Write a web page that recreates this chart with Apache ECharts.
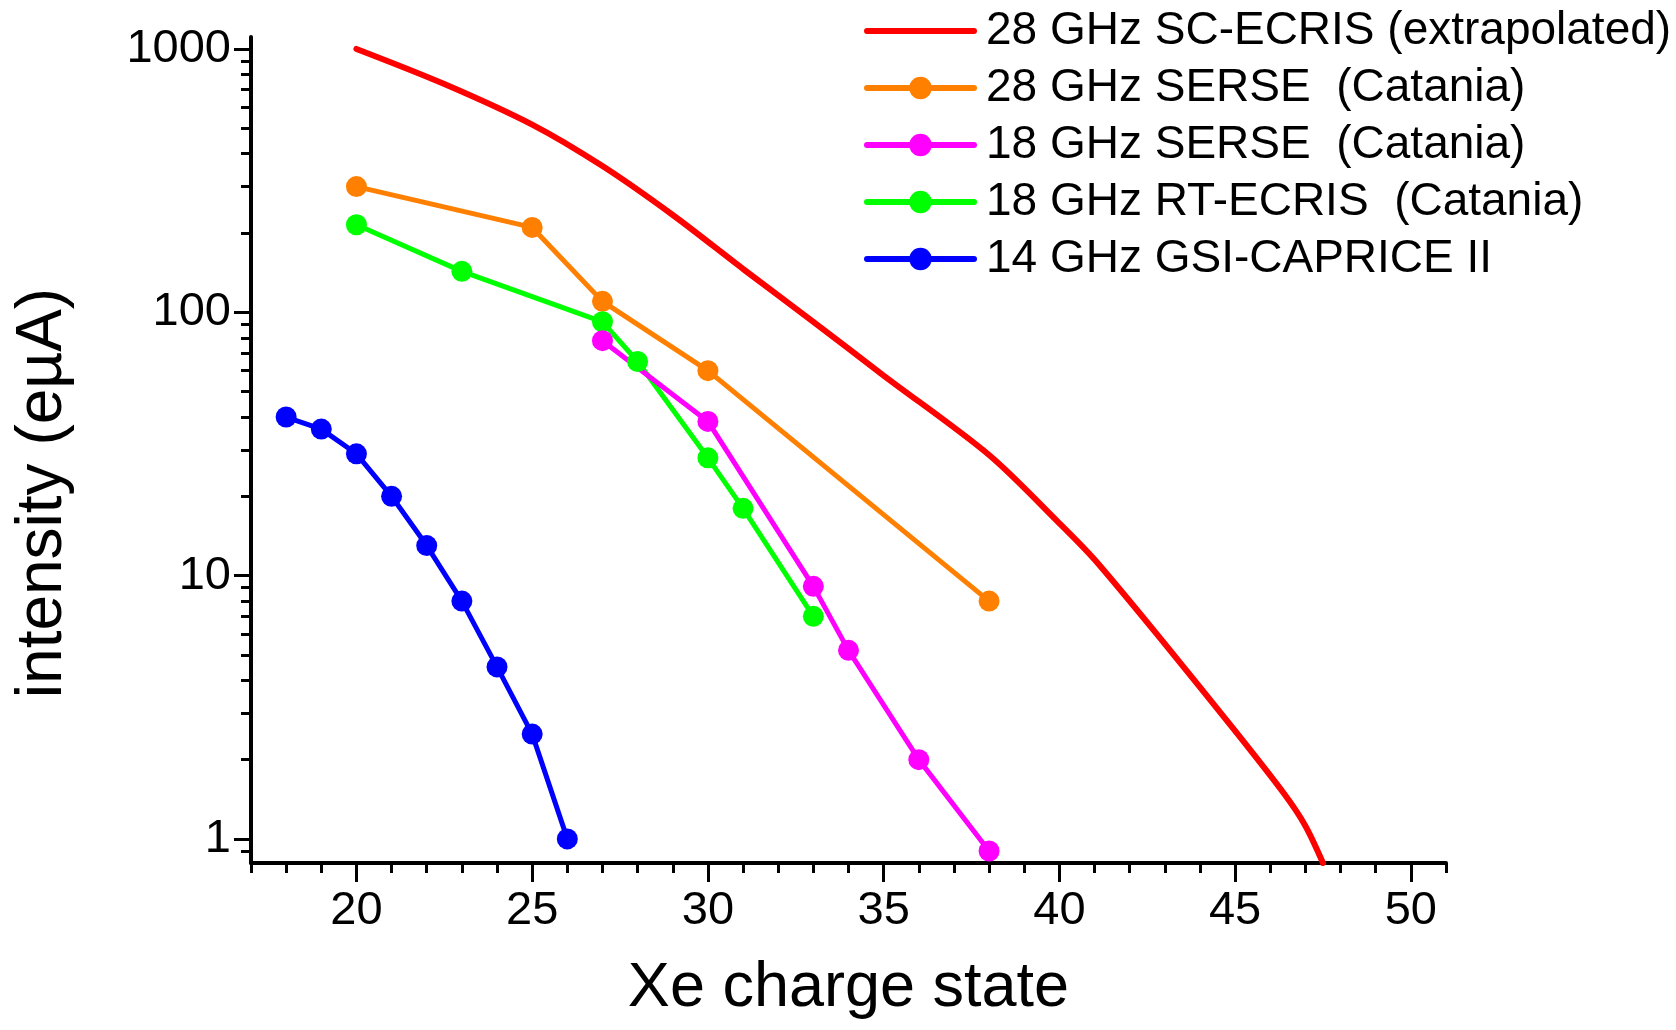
<!DOCTYPE html>
<html>
<head>
<meta charset="utf-8">
<title>Xe charge state</title>
<script src="https://cdn.jsdelivr.net/npm/echarts@6/dist/echarts.min.js"></script>
<style>
	html, body { margin: 0; padding: 0; background: #fff; }
	#chart { width: 1676px; height: 1030px; }
</style>
</head>
<body>
<div id="chart"></div>
<script>
	// 28 GHz SC-ECRIS (extrapolated) - smooth curve, no markers
	var scEcrisX = [20, 22.5, 25, 27, 29, 31, 33, 35, 38, 40, 41, 43, 45, 46.4, 47, 47.5];
	var scEcrisY = [1000, 736, 516, 359, 234, 146, 92, 57.5, 28.7, 15.8, 11.5, 5.5, 2.57, 1.48, 1.12, 0.81];
	// 28 GHz SERSE (Catania)
	var serse28X = [20, 25, 27, 30, 38];
	var serse28Y = [300, 210, 110, 60, 8];
	// 18 GHz SERSE (Catania)
	var serse18X = [27, 30, 33, 34, 36, 38];
	var serse18Y = [78, 38.5, 9.1, 5.2, 2.0, 0.9];
	// 18 GHz RT-ECRIS (Catania)
	var rtEcrisX = [20, 23, 27, 28, 30, 31, 33];
	var rtEcrisY = [215, 143, 92, 65, 28, 18, 7];
	// 14 GHz GSI-CAPRICE II
	var capriceX = [18, 19, 20, 21, 22, 23, 24, 25, 26];
	var capriceY = [40, 36, 29, 20, 13, 8, 4.5, 2.5, 1];

	var xTickLabels = [20, 25, 30, 35, 40, 45, 50];
	var yTickLabels = [1, 10, 100, 1000];
	var yMinorTicks = [0.9, 2, 3, 4, 5, 6, 7, 8, 9, 20, 30, 40, 50, 60, 70, 80, 90, 200, 300, 400, 500, 600, 700, 800, 900];

	var names = ['28 GHz SC-ECRIS (extrapolated)', '28 GHz SERSE  (Catania)', '18 GHz SERSE  (Catania)',
		'18 GHz RT-ECRIS  (Catania)', '14 GHz GSI-CAPRICE II'];

	function pairs(xs, ys) {
		var out = [];
		for (var i = 0; i < xs.length; i++) out.push([xs[i], ys[i]]);
		return out;
	}

	var font = 'Liberation Sans, Arial, sans-serif';
	var plain = function (v) { return String(v); };

	var myChart = echarts.init(document.getElementById('chart'));

	var legendData = names.map(function (n, i) {
		// the extrapolated curve has no marker in its legend entry
		if (i === 0) return { name: n, itemStyle: { opacity: 0, borderWidth: 0 } };
		return { name: n };
	});

	var option = {
		animation: false,
		backgroundColor: '#fff',
		grid: { left: 251, right: 230, top: 37, bottom: 167, containLabel: false },
		legend: {
			orient: 'vertical',
			left: 859,
			top: 3,
			itemWidth: 107,
			itemHeight: 28,
			itemGap: 11,
			data: legendData,
			lineStyle: { width: 6, cap: 'round' },
			textStyle: { fontSize: 46, lineHeight: 46, fontFamily: font, color: '#000', padding: [0, 0, 0, 7] }
		},
		xAxis: [
			{
				type: 'value', min: 17, max: 51, interval: 1,
				name: 'Xe charge state', nameLocation: 'middle', nameGap: 94,
				nameTextStyle: { fontSize: 63, fontFamily: font, color: '#000' },
				axisLine: { lineStyle: { color: '#000', width: 4 } },
				axisTick: { length: 10, lineStyle: { color: '#000', width: 3 } },
				axisLabel: { customValues: xTickLabels, formatter: plain, fontSize: 47, fontFamily: font, color: '#000', margin: 25 },
				splitLine: { show: false }
			},
			{
				type: 'value', min: 17, max: 51, position: 'bottom',
				axisLine: { show: false },
				axisTick: { customValues: xTickLabels, length: 19, lineStyle: { color: '#000', width: 3 } },
				axisLabel: { show: false },
				splitLine: { show: false }
			}
		],
		yAxis: [
			{
				type: 'log', logBase: 10, min: 0.81, max: 1110,
				name: 'intensity (eµA)', nameLocation: 'middle', nameGap: 176,
				nameTextStyle: { fontSize: 64, fontFamily: font, color: '#000', padding: [0, 86, 0, 0] },
				axisLine: { show: true, lineStyle: { color: '#000', width: 4 } },
				axisTick: { customValues: yTickLabels, length: 17, lineStyle: { color: '#000', width: 3 } },
				axisLabel: { customValues: yTickLabels, formatter: plain, fontSize: 47, fontFamily: font, color: '#000', margin: 20 },
				splitLine: { show: false }
			},
			{
				type: 'log', logBase: 10, min: 0.81, max: 1110, position: 'left',
				axisLine: { show: false },
				axisTick: { customValues: yMinorTicks, length: 10, lineStyle: { color: '#000', width: 3 } },
				axisLabel: { show: false },
				splitLine: { show: false }
			}
		],
		series: [
			{
				name: names[0], type: 'line', smooth: 0.3, symbol: 'none',
				color: '#ff0000',
				lineStyle: { width: 6, cap: 'round' },
				data: pairs(scEcrisX, scEcrisY)
			},
			{
				name: names[1], type: 'line', symbol: 'circle', symbolSize: 21,
				color: '#ff8000', lineStyle: { width: 5 },
				data: pairs(serse28X, serse28Y)
			},
			{
				name: names[3], type: 'line', symbol: 'circle', symbolSize: 21,
				color: '#00ff00', lineStyle: { width: 5 },
				data: pairs(rtEcrisX, rtEcrisY)
			},
			{
				name: names[2], type: 'line', symbol: 'circle', symbolSize: 21,
				color: '#ff00ff', lineStyle: { width: 5 },
				data: pairs(serse18X, serse18Y)
			},
			{
				name: names[4], type: 'line', symbol: 'circle', symbolSize: 21,
				color: '#0000ff', lineStyle: { width: 5 },
				data: pairs(capriceX, capriceY)
			}
		]
	};

	myChart.setOption(option);
</script>
</body>
</html>
